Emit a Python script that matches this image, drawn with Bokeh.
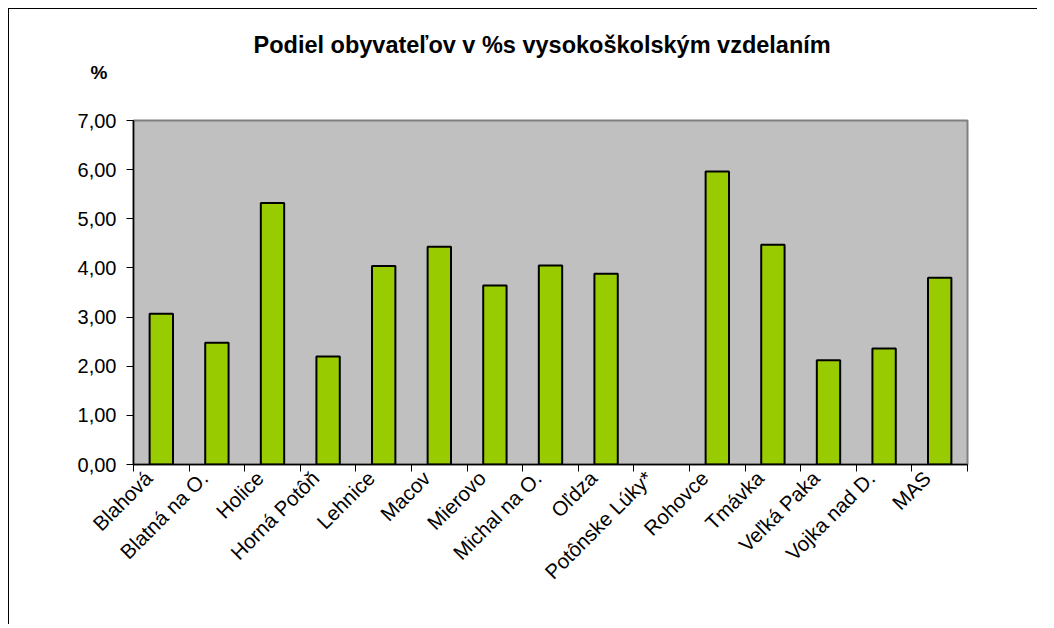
from bokeh.plotting import figure
from bokeh.models import Range1d, FixedTicker, LinearAxis, ColumnDataSource, Title
from bokeh.embed import file_html
from bokeh.resources import INLINE
from math import pi

categories = ["Blahová", "Blatná na O.", "Holice", "Horná Potôň", "Lehnice", "Macov",
              "Mierovo", "Michal na O.", "Oľdza", "Potônske Lúky*", "Rohovce",
              "Tmávka", "Veľká Paka", "Vojka nad D.", "MAS"]
values = [3.07, 2.48, 5.32, 2.20, 4.04, 4.43, 3.64, 4.05, 3.88, None, 5.96, 4.47, 2.12, 2.36, 3.80]
y_ticks = [0, 1, 2, 3, 4, 5, 6, 7]
title_text = "Podiel obyvateľov v %s vysokoškolským vzdelaním"
unit_text = "%"

FONT = "Liberation Sans"
n = len(categories)

p = figure(output_backend="svg", toolbar_location=None, title=title_text,
           frame_width=834, frame_height=344,
           min_border_left=124, min_border_top=111, min_border_right=70, min_border_bottom=160,
           x_range=Range1d(0, n), y_range=Range1d(0, 7),
           x_axis_type=None, y_axis_type=None)
p.styles = {"margin-left": "8px", "margin-top": "8px",
            "border-left": "1px solid black", "border-top": "1px solid black"}
p.background_fill_color = "#C0C0C0"
p.border_fill_color = "white"
p.outline_line_color = "#808080"
p.outline_line_width = 2

# main title (outermost)
p.title.align = "left"
p.title.offset = 120
p.title.text_font = FONT
p.title.text_font_size = "23.5px"
p.title.text_font_style = "bold"
p.title.text_color = "black"
p.title.standoff = -72

# unit label "%" (closest to the frame)
unit = Title(text=unit_text, align="left", offset=-43, text_font=FONT,
             text_font_size="19px", text_font_style="bold", text_color="black", standoff=76)
p.add_layout(unit, "above")

xs = [i + 0.5 for i, v in enumerate(values) if v is not None]
tops = [v for v in values if v is not None]
src = ColumnDataSource(dict(x=xs, top=tops))
p.vbar(x="x", top="top", width=0.42, bottom=0, source=src,
       fill_color="#99CC00", line_color="black", line_width=2)

# y axis
yax = LinearAxis(ticker=FixedTicker(ticks=y_ticks))
yax.major_label_overrides = {t: f"{t:.2f}".replace(".", ",") for t in y_ticks}
yax.major_label_text_font = FONT
yax.major_label_text_font_size = "20px"
yax.major_label_text_color = "black"
yax.major_label_standoff = 10
yax.major_tick_out = 7
yax.major_tick_in = 0
yax.minor_tick_out = 0
yax.axis_line_color = "black"
yax.axis_line_width = 1.5
yax.major_tick_line_color = "black"
p.add_layout(yax, "left")

# x axis: labels near centres, ticks at category boundaries
label_shift = 0.23
label_pos = [i + 0.5 - label_shift for i in range(n)]
bounds = [i for i in range(n + 1)]
xax = LinearAxis(ticker=FixedTicker(ticks=label_pos, minor_ticks=bounds))
xax.major_label_overrides = {c: lab for c, lab in zip(label_pos, categories)}
xax.major_label_orientation = pi / 4
xax.major_label_text_font = FONT
xax.major_label_text_font_size = "20.5px"
xax.major_label_text_color = "black"
xax.major_label_standoff = 3
xax.major_tick_out = 0
xax.major_tick_in = 0
xax.minor_tick_out = 7
xax.minor_tick_in = 0
xax.minor_tick_line_color = "black"
xax.axis_line_color = "black"
xax.axis_line_width = 1.5
p.add_layout(xax, "below")

p.ygrid.ticker = FixedTicker(ticks=y_ticks)
p.ygrid.grid_line_color = "black"
p.ygrid.grid_line_width = 1
p.xgrid.visible = False

open("out.html", "w").write(file_html(p, INLINE))
